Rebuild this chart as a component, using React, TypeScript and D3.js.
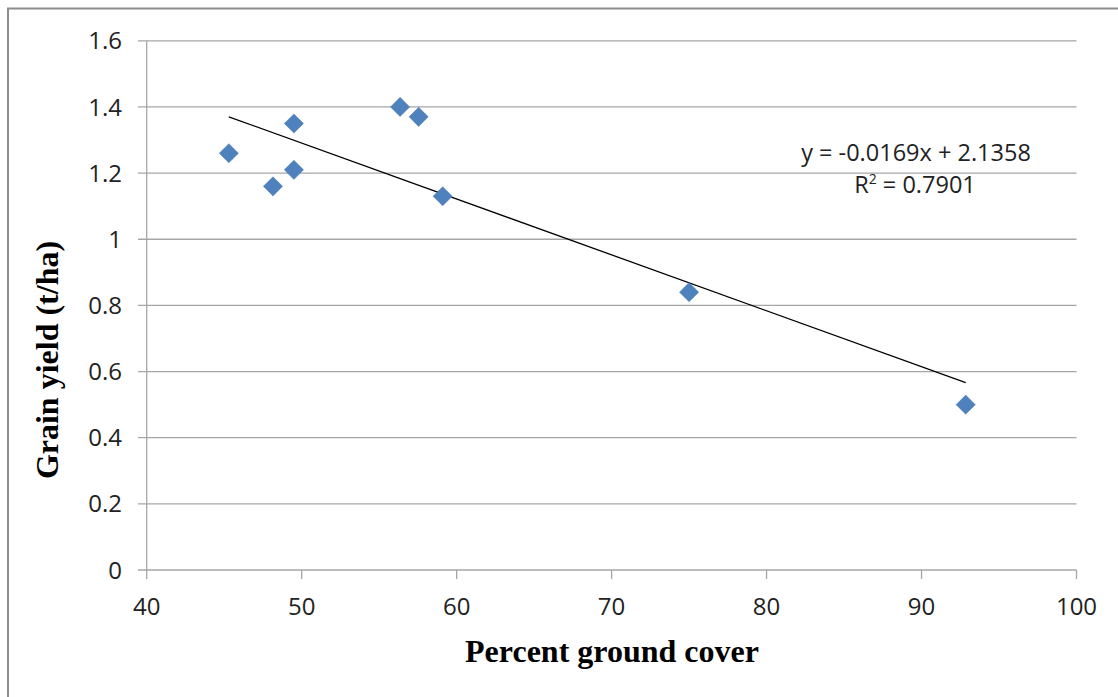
import React from "react";
import * as d3 from "d3";

const groundCover = [45.3, 48.15, 49.5, 49.5, 56.35, 57.55, 59.1, 75.0, 92.85];
const grainYield = [1.26, 1.16, 1.35, 1.21, 1.40, 1.37, 1.13, 0.84, 0.50];
const xTicks = [40, 50, 60, 70, 80, 90, 100];
const yTicks = [0, 0.2, 0.4, 0.6, 0.8, 1, 1.2, 1.4, 1.6];
const slope = -0.0169;
const intercept = 2.1358;
const eqText = "y = -0.0169x + 2.1358";
const r2Value = "0.7901";
const xTitle = "Percent ground cover";
const yTitle = "Grain yield (t/ha)";

export default function App() {
  const W = 1118, H = 697;
  const x = d3.scaleLinear().domain([40, 100]).range([146.7, 1076.5]);
  const y = d3.scaleLinear().domain([0, 1.6]).range([570, 40.8]);
  const tickFont = "'Open Sans', 'Noto Sans', sans-serif";
  const serif = "'Liberation Serif', 'Times New Roman', serif";
  const xMin = d3.min(groundCover)!;
  const xMax = d3.max(groundCover)!;
  const trend = d3.line<number>().x(d => x(d)).y(d => y(slope * d + intercept));
  const diamond = d3.symbol().type(d3.symbolDiamond2).size(235)();
  const grid = "#a6a6a6";
  return (
    <svg width={W} height={H} style={{ position: "fixed", left: 0, top: 0, background: "#fff" }}>
      <rect x={8} y={8.5} width={W + 20} height={H + 20} fill="#fff" stroke="#8c8c8c" strokeWidth={2} />
      {yTicks.map(t => (
        <g key={"y" + t}>
          <line x1={138} x2={x(100)} y1={y(t)} y2={y(t)} stroke={grid} strokeWidth={1.3} />
          <text x={122} y={y(t)} dy="0.36em" textAnchor="end" fontFamily={tickFont} fontSize={24} fill="#222">{String(t)}</text>
        </g>
      ))}
      <line x1={x(40)} x2={x(40)} y1={y(1.6)} y2={y(0)} stroke={grid} strokeWidth={1.3} />
      {xTicks.map(t => (
        <g key={"x" + t}>
          <line x1={x(t)} x2={x(t)} y1={y(0)} y2={y(0) + 9} stroke={grid} strokeWidth={1.3} />
          <text x={x(t)} y={615} textAnchor="middle" fontFamily={tickFont} fontSize={24} fill="#222">{t}</text>
        </g>
      ))}
      <path d={trend([xMin, xMax]) || ""} fill="none" stroke="#000" strokeWidth={1.3} />
      {groundCover.map((gc, i) => (
        <path key={i} d={diamond || ""} transform={`translate(${x(gc)},${y(grainYield[i])})`} fill="#4f81bd" stroke="#4a7ab5" strokeWidth={0.5} />
      ))}
      <text x={916} y={161} textAnchor="middle" fontFamily={tickFont} fontSize={23.5} fill="#222">{eqText}</text>
      <text x={915} y={193} textAnchor="middle" fontFamily={tickFont} fontSize={23.5} fill="#222">
        R<tspan dy={-9} fontSize={14}>2</tspan><tspan dy={9}>{" = " + r2Value}</tspan>
      </text>
      <text x={612} y={662} textAnchor="middle" fontFamily={serif} fontWeight="bold" fontSize={32} fill="#000">{xTitle}</text>
      <text transform="translate(58,360) rotate(-90)" textAnchor="middle" fontFamily={serif} fontWeight="bold" fontSize={32} fill="#000">{yTitle}</text>
    </svg>
  );
}
